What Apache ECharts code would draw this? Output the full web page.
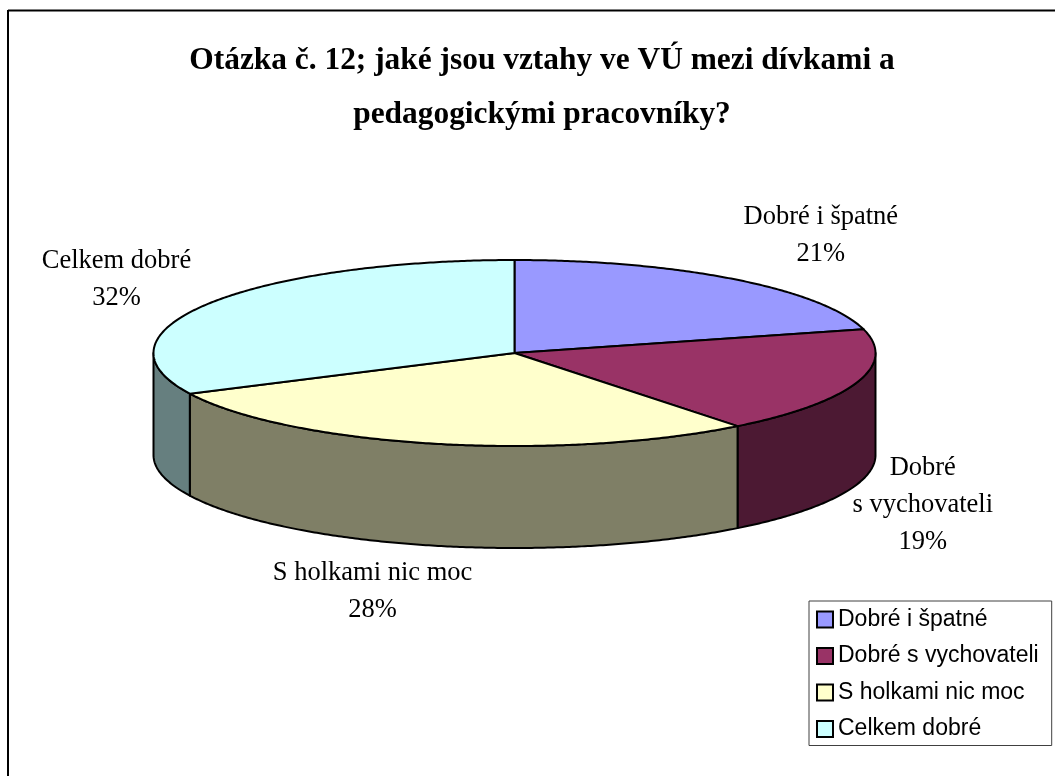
<!DOCTYPE html>
<html>
<head>
<meta charset="utf-8">
<style>html,body{margin:0;padding:0;background:#fff}#c{width:1055px;height:776px}</style>
<script src="https://cdn.jsdelivr.net/npm/echarts@6/dist/echarts.min.js"></script>
</head>
<body>
<div id="c"></div>
<script>
const categories = ['Dobré i špatné', 'Dobré s vychovateli', 'S holkami nic moc', 'Celkem dobré'];
const labelNames = ['Dobré i špatné', 'Dobré\ns vychovateli', 'S holkami nic moc', 'Celkem dobré'];
const values = [20.9, 18.5, 28.4, 32.2];
const colors = ['#9999FF', '#993366', '#FFFFCC', '#CCFFFF'];
const wallColors = ['#4C4C7F', '#4C1933', '#7F7F66', '#667F7F'];
const titleText = 'Otázka č. 12; jaké jsou vztahy ve VÚ mezi dívkami a\npedagogickými pracovníky?';

// pie projection
const cx = 514.5, cy = 353, rx = 361, ry = 93, depth = 102;
// label centre relative to the slice's rim point at its mid angle
const labelOffsets = [[86, -44], [66, 122], [-61, 148], [-92, -24]];

const total = values.reduce((a, b) => a + b, 0);
const rim = (deg, dy) => {
  const t = deg * Math.PI / 180;
  return [cx + rx * Math.sin(t), cy - ry * Math.cos(t) + (dy || 0)];
};
const arc = (a0, a1, dy) => {
  const n = Math.max(2, Math.ceil((a1 - a0) * 2)), pts = [];
  for (let i = 0; i <= n; i++) pts.push(rim(a0 + (a1 - a0) * i / n, dy));
  return pts;
};
const startAngle = i => values.slice(0, i).reduce((a, b) => a + b, 0) / total * 360;

function renderSlice(params, api) {
  const i = params.seriesIndex;
  const a0 = startAngle(i), a1 = a0 + api.value(0) / total * 360;
  const children = [];
  const w0 = Math.max(a0, 90), w1 = Math.min(a1, 270);
  const stroke = { stroke: '#000', lineWidth: 2, lineJoin: 'round' };
  if (w1 > w0) {
    children.push({
      type: 'polygon', z2: 1,
      shape: { points: arc(w0, w1, 0).concat(arc(w0, w1, depth).reverse()) },
      style: Object.assign({ fill: wallColors[i] }, stroke)
    });
  }
  children.push({
    type: 'polygon', z2: 2,
    shape: { points: [[cx, cy]].concat(arc(a0, a1, 0)) },
    style: Object.assign({ fill: colors[i] }, stroke)
  });
  const p = rim((a0 + a1) / 2);
  children.push({
    type: 'text', z2: 3,
    x: p[0] + labelOffsets[i][0], y: p[1] + labelOffsets[i][1],
    style: {
      text: labelNames[i] + '\n' + Math.round(api.value(0) / total * 100) + '%',
      font: '26.5px "Liberation Serif", serif',
      fill: '#000', align: 'center', verticalAlign: 'middle',
      textAlign: 'center', textVerticalAlign: 'middle', lineHeight: 37
    }
  });
  return { type: 'group', children };
}

const chart = echarts.init(document.getElementById('c'));
chart.setOption({
  animation: false,
  backgroundColor: '#fff',
  title: {
    text: titleText,
    left: 537, top: 29, textAlign: 'center',
    textStyle: { fontFamily: '"Liberation Serif", serif', fontWeight: 'bold', fontSize: 31.4, lineHeight: 54, color: '#000' }
  },
  legend: {
    orient: 'vertical', left: 809, top: 601,
    padding: [7, 13, 5, 7],
    icon: 'rect', itemWidth: 16, itemHeight: 16, itemGap: 13.5,
    selectedMode: false,
    data: categories,
    borderColor: '#404040', borderWidth: 1, backgroundColor: '#fff',
    itemStyle: { borderColor: '#000', borderWidth: 2 },
    textStyle: { fontFamily: '"Liberation Sans", sans-serif', fontSize: 23, color: '#000' }
  },
  graphic: [
    { type: 'line', shape: { x1: 8, y1: 10.5, x2: 1055, y2: 10.5 }, style: { stroke: '#000', lineWidth: 2 } },
    { type: 'line', shape: { x1: 8, y1: 10, x2: 8, y2: 776 }, style: { stroke: '#000', lineWidth: 2 } }
  ],
  series: categories.map((name, i) => ({
    type: 'custom', name,
    coordinateSystem: 'none',
    renderItem: renderSlice,
    itemStyle: { color: colors[i] },
    data: [[values[i]]],
    silent: true
  }))
});
</script>
</body>
</html>
